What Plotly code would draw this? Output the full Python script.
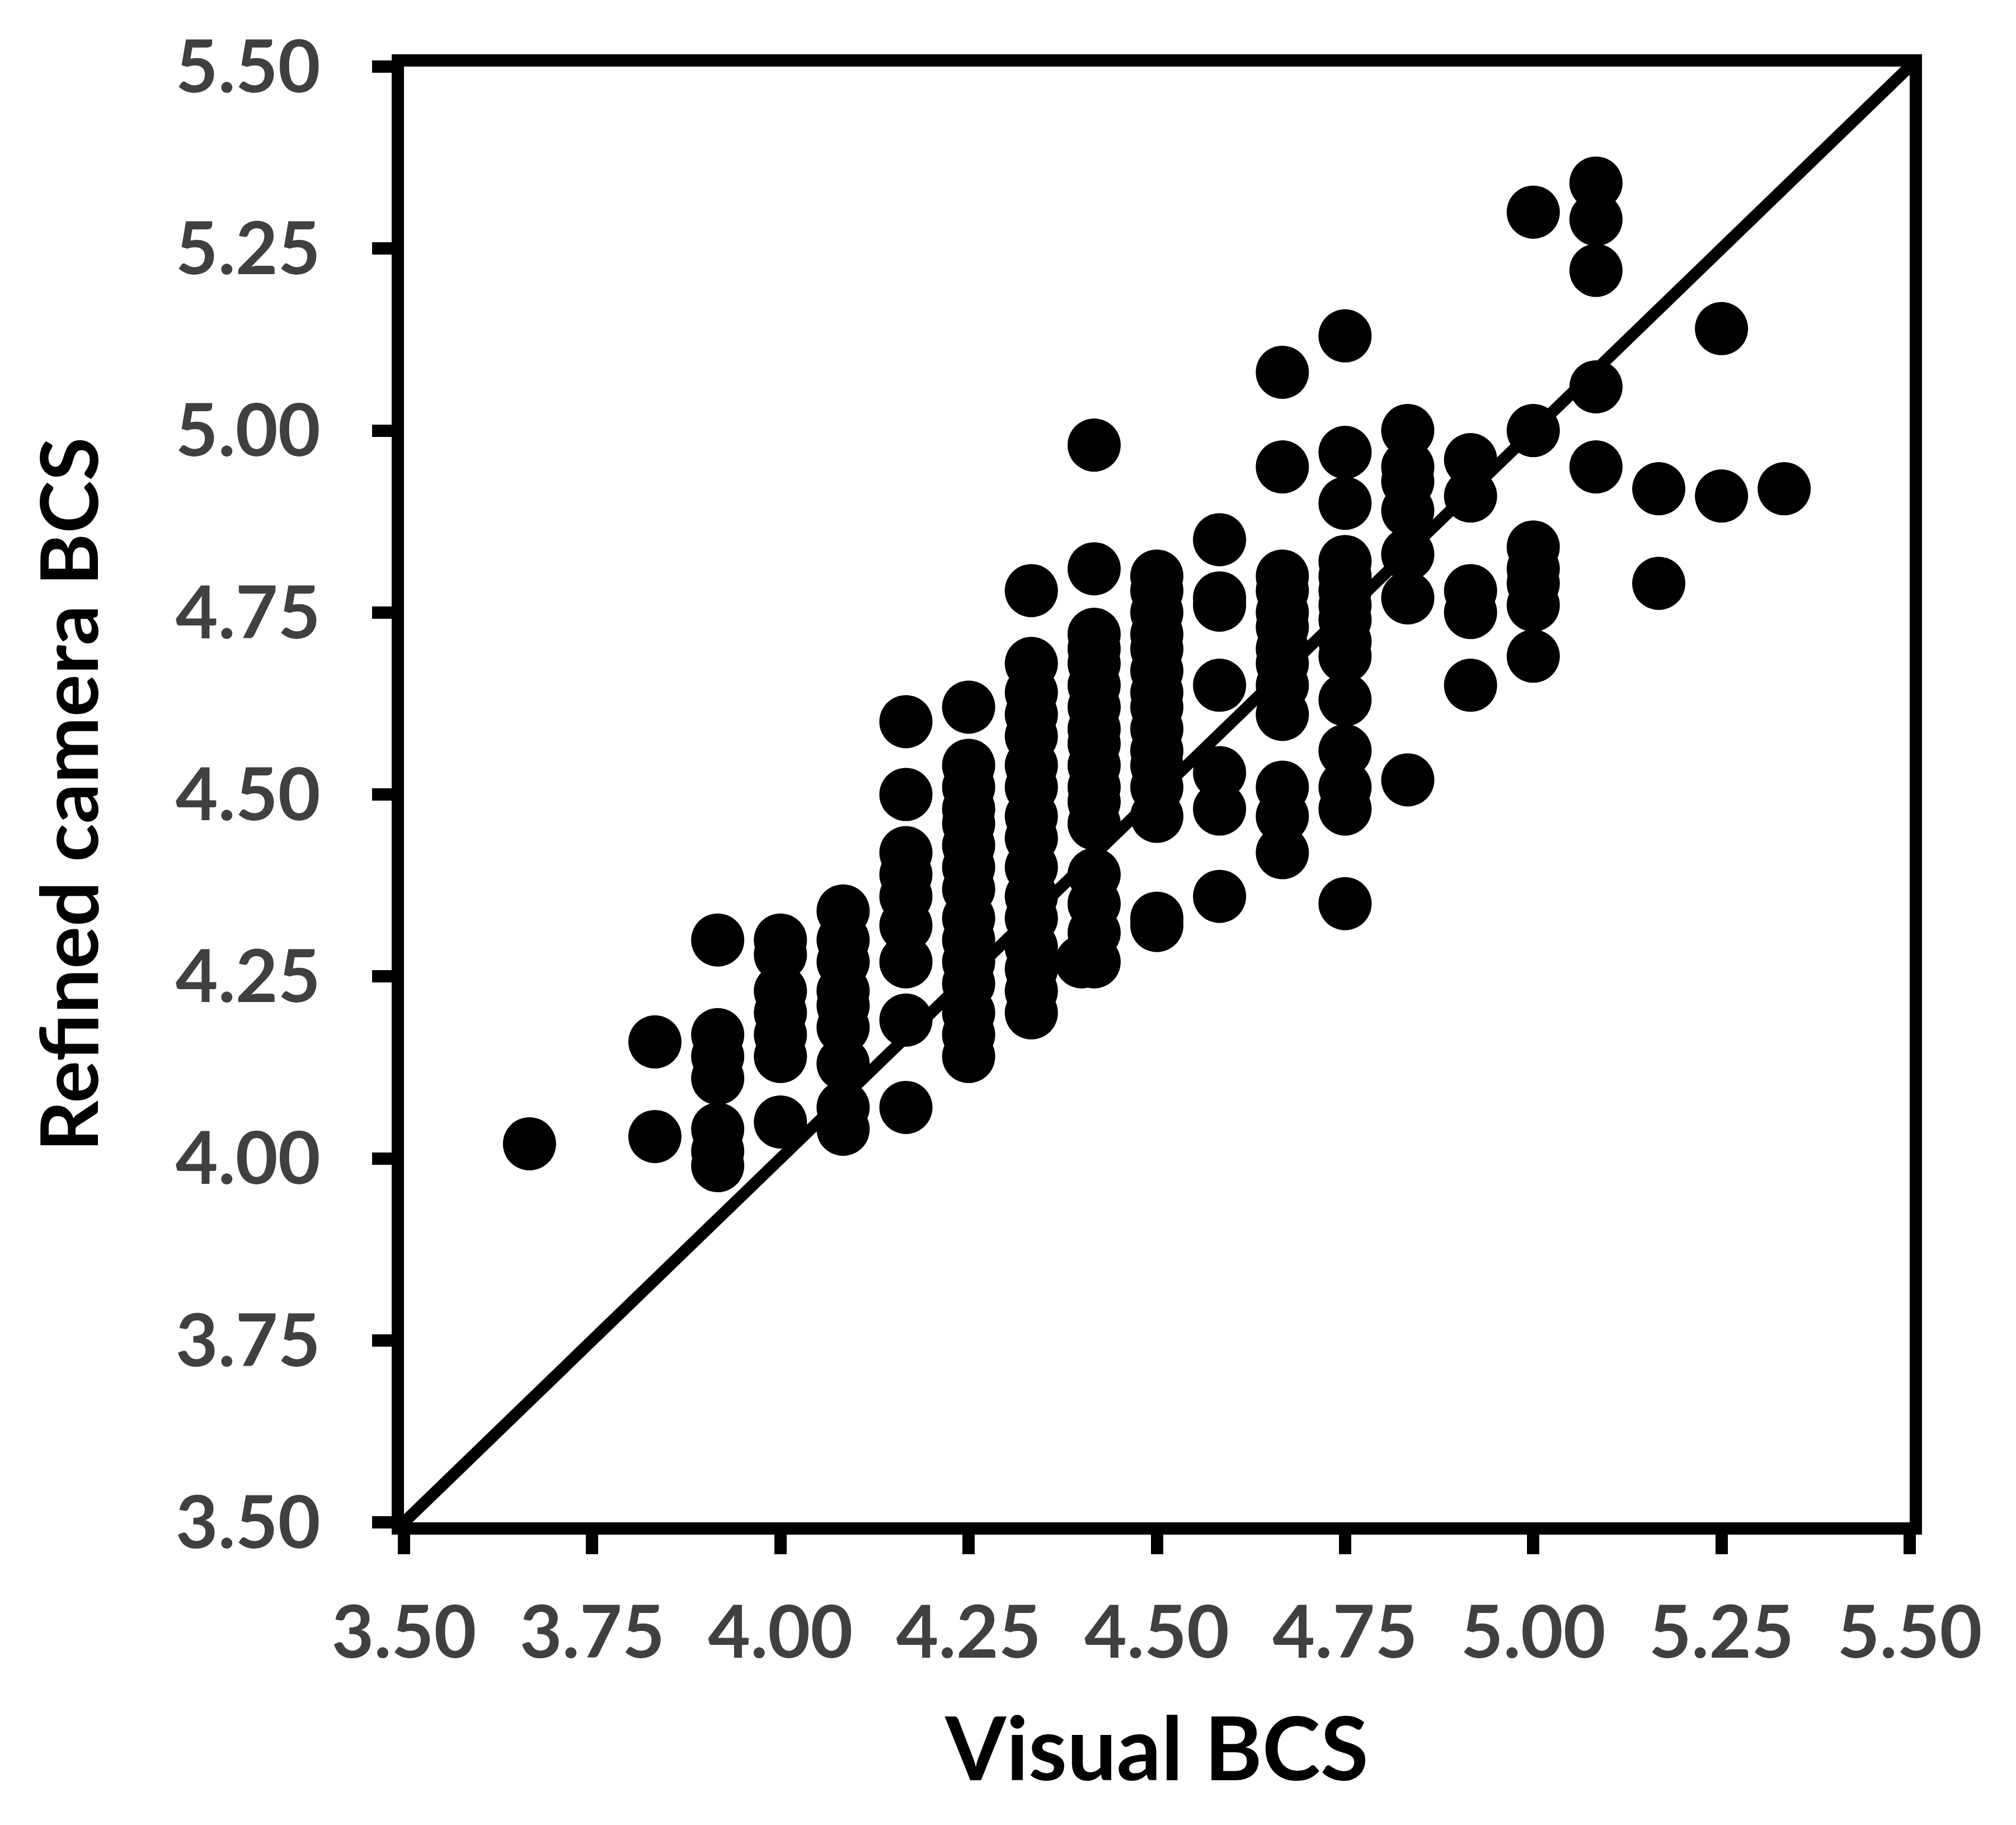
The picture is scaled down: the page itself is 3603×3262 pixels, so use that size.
import plotly.graph_objects as go

# Column positions (Visual BCS) and the camera BCS values read in each column
visual_bcs = (
    [3.6667] * 1 + [3.8333] * 2 + [3.9167] * 7 + [4.0] * 7 + [4.0833] * 9 +
    [4.1667] * 9 + [4.25] * 15 + [4.3333] * 16 + [4.40] * 1 + [4.4167] * 17 +
    [4.5] * 15 + [4.5833] * 7 + [4.6667] * 13 + [4.75] * 15 + [4.8333] * 7 +
    [4.9167] * 5 + [5.0] * 7 + [5.0833] * 5 + [5.1667] * 2 + [5.25] * 2 + [5.3333] * 1
)

camera_bcs = [
    # 3.667
    4.02,
    # 3.833
    4.16, 4.03,
    # 3.917
    4.30, 4.17, 4.14, 4.11, 4.04, 4.01, 3.99,
    # 4.000
    4.30, 4.28, 4.23, 4.20, 4.17, 4.14, 4.05,
    # 4.083
    4.34, 4.30, 4.27, 4.23, 4.21, 4.18, 4.13, 4.07, 4.04,
    # 4.167
    4.60, 4.50, 4.42, 4.39, 4.36, 4.32, 4.27, 4.19, 4.07,
    # 4.250
    4.62, 4.54, 4.51, 4.48, 4.46, 4.43, 4.40, 4.37, 4.33, 4.30, 4.27, 4.24, 4.20, 4.17, 4.14,
    # 4.333
    4.78, 4.68, 4.64, 4.61, 4.58, 4.54, 4.51, 4.47, 4.44, 4.40, 4.36, 4.33, 4.29, 4.26, 4.23, 4.20,
    # 4.40
    4.27,
    # 4.417
    4.98, 4.81, 4.72, 4.70, 4.68, 4.65, 4.62, 4.59, 4.57, 4.54, 4.51, 4.49, 4.46, 4.39, 4.35, 4.31, 4.27,
    # 4.500
    4.80, 4.78, 4.75, 4.72, 4.70, 4.67, 4.64, 4.62, 4.59, 4.56, 4.54, 4.51, 4.47, 4.33, 4.32,
    # 4.583
    4.85, 4.77, 4.76, 4.65, 4.53, 4.48, 4.36,
    # 4.667
    5.08, 4.95, 4.80, 4.78, 4.75, 4.73, 4.70, 4.68, 4.65, 4.61, 4.51, 4.47, 4.42,
    # 4.750
    5.13, 4.97, 4.90, 4.82, 4.80, 4.78, 4.76, 4.74, 4.71, 4.69, 4.63, 4.56, 4.51, 4.48, 4.35,
    # 4.833
    5.00, 4.95, 4.93, 4.89, 4.83, 4.77, 4.52,
    # 4.917
    4.96, 4.91, 4.78, 4.75, 4.65,
    # 5.000
    5.30, 5.00, 4.84, 4.81, 4.79, 4.76, 4.69,
    # 5.083
    5.34, 5.29, 5.22, 5.06, 4.95,
    # 5.167
    4.92, 4.79,
    # 5.250
    5.14, 4.91,
    # 5.333
    4.92,
]

identity_line = [3.5, 5.5]
tick_values = [3.50, 3.75, 4.00, 4.25, 4.50, 4.75, 5.00, 5.25, 5.50]
tick_labels = ["%.2f" % v for v in tick_values]

fig = go.Figure()
fig.add_trace(go.Scatter(
    x=identity_line, y=identity_line, mode="lines",
    line=dict(color="black", width=21), hoverinfo="skip", showlegend=False,
))
fig.add_trace(go.Scatter(
    x=visual_bcs, y=camera_bcs, mode="markers",
    marker=dict(color="black", size=95, line=dict(width=0)),
    showlegend=False,
))

tick_font = dict(family="Lato", size=131, color="#404040", weight="bold")

axis_common = dict(
    range=[3.5, 5.5], tickvals=tick_values, ticktext=tick_labels,
    showgrid=False, zeroline=False, showline=True, linecolor="black",
    linewidth=22, mirror=True, ticks="outside", ticklen=35, tickwidth=22,
    tickcolor="black", tickfont=tick_font,
)

fig.update_layout(
    width=3603, height=3262,
    margin=dict(l=722, r=190, t=119, b=541, pad=0),
    paper_bgcolor="white", plot_bgcolor="white",
    xaxis=dict(
        title=dict(text="Visual BCS",
                   font=dict(family="Lato", size=157, color="black", weight="bold"),
                   standoff=92),
        ticklabelstandoff=28, **axis_common),
    yaxis=dict(
        title=dict(text="Refined camera BCS",
                   font=dict(family="Lato", size=142, color="black", weight="bold"),
                   standoff=100),
        ticklabelstandoff=66, **axis_common),
)

fig.write_html("out.html", config={"displayModeBar": False},
               post_script="document.body.style.margin='0px';")
